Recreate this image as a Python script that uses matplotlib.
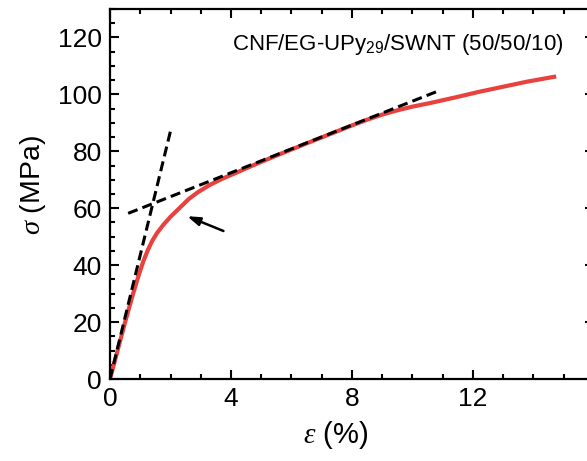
import matplotlib
matplotlib.use("Agg")
import matplotlib.pyplot as plt
from matplotlib.ticker import MultipleLocator

plt.rcParams['font.family'] = ['Liberation Sans', 'DejaVu Sans']
plt.rcParams['mathtext.fontset'] = 'custom'
plt.rcParams['mathtext.rm'] = 'Liberation Sans'
plt.rcParams['mathtext.it'] = 'Liberation Serif:italic'

# stress-strain curve
strain = [0, 0.25, 0.5, 0.75, 0.95, 1.1, 1.25, 1.4, 1.55, 1.75, 2.0, 2.3, 2.6,
          2.9, 3.3, 3.7, 4.2, 4.8, 5.5, 6.5, 7.5, 8.0, 8.5, 9.0, 9.5, 10.0,
          10.6, 11.4, 12.2, 13.0, 13.8, 14.75]
stress = [0, 10, 20, 29.5, 36.5, 41.3, 45.3, 48.6, 51.2, 54.0, 57.0, 60.1, 63.2,
          65.6, 68.2, 70.3, 72.6, 75.4, 78.5, 82.8, 87.0, 89.1, 91.1, 92.9, 94.4, 95.7,
          97.0, 98.9, 100.9, 102.7, 104.5, 106.3]

# tangent lines
elastic_x = [0, 2.02]
elastic_y = [0, 88]
plastic_x = [0.6, 10.9]
plastic_y = [58.2, 101.4]

# arrow (head, tail)
arrow_head = (2.55, 57.2)
arrow_tail = (3.75, 52.0)

x_ticks = [0, 4, 8, 12, 16]
x_ticklabels = ['0', '4', '8', '12', '']
y_ticks = [0, 20, 40, 60, 80, 100, 120]

label_text = "CNF/EG-UPy$_{\\mathregular{29}}$/SWNT (50/50/10)"

fig = plt.figure(figsize=(5.87, 4.61), dpi=100)
ax = fig.add_axes([110/587, 82/461, 484/587, 370/461])

ax.plot(strain, stress, color='#e8413e', lw=3.0, solid_capstyle='butt',
        solid_joinstyle='round', zorder=2)
ax.plot(elastic_x, elastic_y, color='black', lw=2.2, dashes=(3.3, 1.7), zorder=3)
ax.plot(plastic_x, plastic_y, color='black', lw=2.2, dashes=(3.3, 1.7), zorder=3)

ax.annotate('', xy=arrow_head, xytext=arrow_tail,
            arrowprops=dict(arrowstyle='-|>,head_length=0.75,head_width=0.25',
                            color='black', lw=1.8, shrinkA=0, shrinkB=0))

ax.text(0.937, 0.905, label_text, transform=ax.transAxes, fontsize=16,
        ha='right', va='center', color='black')

ax.set_xlim(0, 16)
ax.set_ylim(0, 130)
ax.set_xticks(x_ticks)
ax.set_xticklabels(x_ticklabels)
ax.set_yticks(y_ticks)
ax.xaxis.set_minor_locator(MultipleLocator(1))
ax.yaxis.set_minor_locator(MultipleLocator(5))

ax.tick_params(which='both', direction='in', top=True, right=True, width=1.5)
ax.tick_params(which='major', length=6.5, labelsize=19, pad=6)
ax.tick_params(which='minor', length=3.5)
for s in ax.spines.values():
    s.set_linewidth(1.6)

ax.text(-0.159, 0.524, r'$\sigma$ (MPa)', transform=ax.transAxes, rotation=90,
        ha='center', va='center', fontsize=20.5)
ax.text(0.467, -0.151, r'$\varepsilon$ (%)', transform=ax.transAxes,
        ha='center', va='center', fontsize=21)

fig.savefig('out.png', dpi=100)
